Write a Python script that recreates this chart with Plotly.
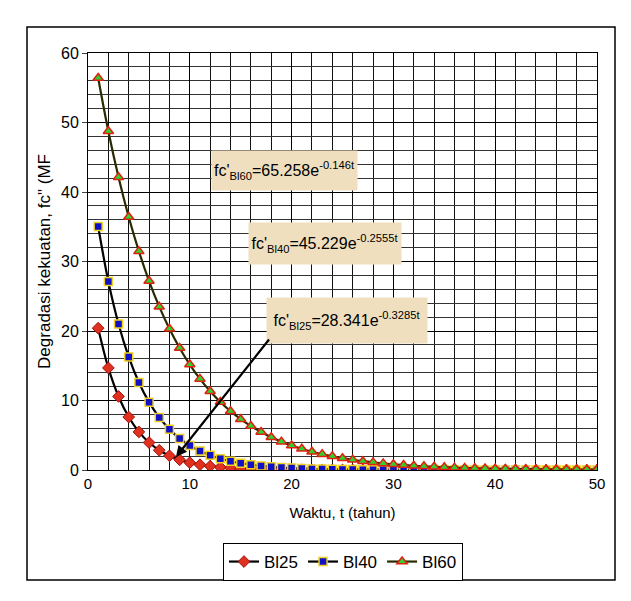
import plotly.graph_objects as go

t = list(range(1, 51))

bi25 = [20.41, 14.69, 10.58, 7.62, 5.48, 3.95, 2.84, 2.05, 1.47, 1.06,
        0.76, 0.55, 0.40, 0.29, 0.21, 0.15, 0.11, 0.08, 0.06, 0.04,
        0.03, 0.02, 0.02, 0.01, 0.01, 0.01, 0.01, 0.00, 0.00, 0.00,
        0.00, 0.00, 0.00, 0.00, 0.00, 0.00, 0.00, 0.00, 0.00, 0.00,
        0.00, 0.00, 0.00, 0.00, 0.00, 0.00, 0.00, 0.00, 0.00, 0.00]
bi40 = [35.03, 27.13, 21.01, 16.27, 12.60, 9.76, 7.56, 5.86, 4.54, 3.51,
        2.72, 2.11, 1.63, 1.26, 0.98, 0.76, 0.59, 0.45, 0.35, 0.27,
        0.21, 0.16, 0.13, 0.10, 0.08, 0.06, 0.05, 0.04, 0.03, 0.02,
        0.02, 0.01, 0.01, 0.01, 0.01, 0.00, 0.00, 0.00, 0.00, 0.00,
        0.00, 0.00, 0.00, 0.00, 0.00, 0.00, 0.00, 0.00, 0.00, 0.00]
bi60 = [56.40, 48.74, 42.12, 36.40, 31.46, 27.19, 23.50, 20.31, 17.55, 15.17,
        13.11, 11.33, 9.79, 8.46, 7.31, 6.32, 5.46, 4.72, 4.08, 3.52,
        3.05, 2.63, 2.28, 1.97, 1.70, 1.47, 1.27, 1.10, 0.95, 0.82,
        0.71, 0.61, 0.53, 0.46, 0.39, 0.34, 0.29, 0.25, 0.22, 0.19,
        0.16, 0.14, 0.12, 0.11, 0.09, 0.08, 0.07, 0.06, 0.05, 0.04]

legend_labels = ["Bl25", "Bl40", "Bl60"]
equations = [
    "fc'<sub>Bl25</sub>=28.341e<sup>-0.3285t</sup>",
    "fc'<sub>Bl40</sub>=45.229e<sup>-0.2555t</sup>",
    "fc'<sub>Bl60</sub>=65.258e<sup>-0.146t</sup>",
]

FONT = "Liberation Sans, Arial, sans-serif"

fig = go.Figure()
styles = [
    dict(symbol="diamond", color="#E0301E", line=dict(color="#A01010", width=1), size=9),
    dict(symbol="square", color="#1010C8", line=dict(color="#F0D020", width=1.5), size=8),
    dict(symbol="triangle-up", color="#30D030", line=dict(color="#E02010", width=1.5), size=9),
]
line_cols = ["#000000", "#000000", "#2A2A00"]
for ys, lab, st, lc in zip([bi25, bi40, bi60], legend_labels, styles, line_cols):
    fig.add_trace(go.Scatter(x=t, y=ys, name=lab, mode="lines+markers",
                             line=dict(color=lc, width=2.2, shape="spline"),
                             marker=st))

W, H = 631, 601
L, R, T, B = 88, 34, 53, 131
pw, ph = W - L - R, H - T - B

def px(x):
    return (x - L) / pw

def py(y):
    return (H - B - y) / ph

fig.update_layout(
    width=W, height=H,
    margin=dict(l=L, r=R, t=T, b=B),
    paper_bgcolor="white", plot_bgcolor="white",
    font=dict(family=FONT, size=15, color="black"),
    showlegend=True,
    legend=dict(orientation="h", x=px(343), xanchor="center", y=py(543), yanchor="top",
                bordercolor="black", borderwidth=1, font=dict(size=17, family=FONT),
                itemwidth=30, tracegroupgap=0),
    xaxis=dict(range=[0, 50], dtick=10, showgrid=True, gridcolor="#000000", gridwidth=1,
               minor=dict(dtick=2, showgrid=True, gridcolor="#111111", gridwidth=1),
               showline=True, linecolor="black", linewidth=1, mirror=True,
               ticks="", zeroline=False, tickfont=dict(size=15),
               title=dict(text="Waktu, t (tahun)", font=dict(size=15), standoff=16)),
    yaxis=dict(range=[0, 60], dtick=10, showgrid=True, gridcolor="#000000", gridwidth=1,
               minor=dict(dtick=2, showgrid=True, gridcolor="#333333", gridwidth=1),
               showline=True, linecolor="black", linewidth=1, mirror=True,
               ticks="outside", ticklen=5, tickcolor="#444", zeroline=False,
               tickfont=dict(size=16),
               title=dict(text="Degradasi kekuatan, fc\" (MF", font=dict(size=17), standoff=6)),
)

# Outer chart border
fig.add_shape(type="rect", xref="paper", yref="paper",
              x0=px(27), x1=px(615), y0=py(580), y1=py(27),
              line=dict(color="black", width=1.5), layer="below")

boxes = [  # (eq index, left, top, right, bottom) in pixels
    (2, 212, 151, 357, 190),
    (1, 249, 223, 401, 264),
    (0, 267, 298, 427, 343),
]
for idx, l, tp, r, b in boxes:
    fig.add_annotation(xref="paper", yref="paper", x=px((l + r) / 2), y=py((tp + b) / 2),
                       xanchor="center", yanchor="middle", showarrow=False,
                       text=equations[idx], font=dict(size=16, family=FONT),
                       bgcolor="#EFDFBF", width=r - l - 2, height=b - tp - 2,
                       borderpad=1, align="center")

# Arrow pointing at BI25 curve
fig.add_annotation(x=8.64, y=1.87, ax=17.9, ay=19.0, xref="x", yref="y",
                   axref="x", ayref="y", text="", showarrow=True,
                   arrowhead=2, arrowsize=1, arrowwidth=2.2, arrowcolor="black")

fig.write_html("out.html")
